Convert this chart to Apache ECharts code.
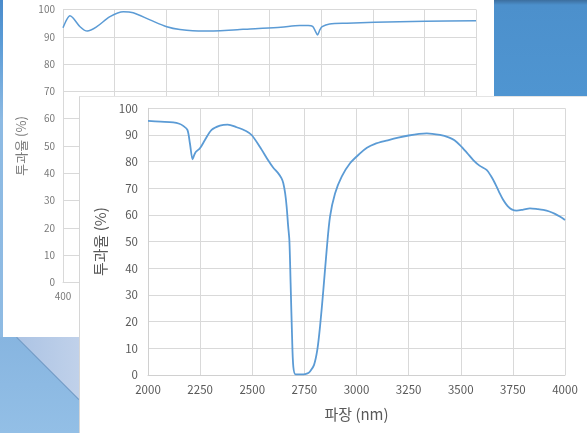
<!DOCTYPE html>
<html>
<head>
<meta charset="utf-8">
<script src="https://cdn.jsdelivr.net/npm/echarts@6/dist/echarts.min.js"></script>
<style>
  html, body { margin: 0; padding: 0; }
  body { width: 587px; height: 433px; position: relative; overflow: hidden;
         background: linear-gradient(180deg, #4a8bcb 0px, #5a9bd6 40px, #8dbae3 120px, #8fbbe3 433px); }
  .layer { position: absolute; left: 0; top: 0; width: 587px; height: 433px; }
  #topRight { position: absolute; left: 494px; top: 0; width: 93px; height: 96px;
              background: linear-gradient(180deg, #3c6e9e 0px, #4c90cc 5px, #4f95d1 96px); }
  #bottomLeft { position: absolute; left: 0; top: 337px; width: 79px; height: 96px;
                background: linear-gradient(180deg, #87b5e0 0px, #93bfe6 96px); }
  #sheen { position: absolute; left: 0; top: 337px; width: 79px; height: 96px;
           background: linear-gradient(90deg, #a7c0e2 0px, #c0d1ea 79px);
           clip-path: polygon(17px 0, 79px 0, 79px 62px); }
  #edge { position: absolute; left: 17px; top: 337px; width: 88px; height: 1px; background: #6f93bd;
          transform-origin: 0 0; transform: rotate(45deg); opacity: 0.8; }
  #backPanel { position: absolute; left: 3px; top: 0; width: 491px; height: 337px; background: #fff; }
  #frontPanel { position: absolute; left: 79px; top: 96px; width: 508px; height: 337px; background: #fff;
                box-sizing: border-box; border-left: 1px solid #d6d6d6; border-top: 1px solid #e4e4e4; }
</style>
</head>
<body>
<div id="topRight"></div>
<div id="bottomLeft"></div>
<div id="sheen"></div>
<div id="edge"></div>
<div id="backPanel"></div>
<div id="backChart" class="layer"></div>
<div id="frontPanel"></div>
<div id="frontChart" class="layer"></div>
<script>
// UV–VIS–NIR transmittance (400–2000 nm)
const visWavelength = [400, 414, 427, 440, 466, 494, 531, 582, 634, 672, 737, 802, 853, 944, 1060, 1125,
  1244, 1317, 1350, 1367, 1378, 1386, 1395, 1404, 1433, 1500, 1607, 1803, 2000];
const visTransmittance = [93.3, 96.2, 97.7, 96.8, 93.7, 92.1, 93.7, 97.4, 99.2, 98.8, 96.2, 93.7, 92.7, 92.1, 92.5, 92.9,
  93.5, 94.1, 94.1, 93.8, 92.0, 90.7, 92.5, 93.7, 94.7, 95.0, 95.3, 95.7, 95.9];
const visTicks = [400, 600, 800, 1000, 1200, 1400, 1600, 1800, 2000];

// Mid-IR transmittance (2000–4000 nm)
const irWavelength = [2000, 2060, 2121, 2150, 2169, 2189, 2201, 2214, 2222, 2230, 2249, 2273, 2305, 2345, 2382,
  2425, 2470, 2497, 2537, 2577, 2600, 2625, 2640, 2649, 2658, 2665, 2672, 2678, 2684, 2691, 2697, 2708, 2745,
  2765, 2777, 2796, 2812, 2825, 2841, 2857, 2873, 2897, 2929, 2969, 3017, 3050, 3086, 3150, 3200, 3250, 3300,
  3337, 3400, 3445, 3470, 3496, 3530, 3560, 3590, 3624, 3645, 3664, 3684, 3704, 3725, 3744, 3768, 3800, 3832,
  3870, 3896, 3925, 3952, 3975, 4000];
const irTransmittance = [95.3, 95.0, 94.7, 94.2, 93.4, 91.9, 86.9, 80.9, 82.5, 83.7, 85.0, 88.1, 91.9, 93.5, 93.9,
  92.9, 91.5, 90.0, 85.5, 80.4, 77.8, 75.6, 73.8, 71.9, 68.0, 63.1, 56.0, 50.6, 34.4, 14.4, 3.1, 0.2, 0.2,
  0.6, 1.3, 3.7, 9.4, 18.1, 31.9, 46.9, 59.4, 68.1, 74.4, 79.4, 83.1, 85.2, 86.6, 88.0, 89.0, 89.8, 90.4,
  90.6, 90.0, 89.0, 88.0, 86.2, 83.3, 80.6, 78.5, 76.9, 74.6, 71.9, 68.6, 65.6, 63.3, 62.1, 61.6, 62.0, 62.5,
  62.2, 61.9, 61.3, 60.4, 59.4, 58.1];
const irTicks = [2000, 2250, 2500, 2750, 3000, 3250, 3500, 3750, 4000];

const yTitle = '투과율 (%)';
const xTitle = '파장 (nm)';
const lineBlue = '#5b9bd5';
const gridGrey = '#d9d9d9';
const FONT = '"Noto Sans CJK KR", "Noto Sans", sans-serif';

function pairs(xs, ys) { return xs.map((x, i) => [x, ys[i]]); }
const plain = v => String(v);

function makeOption(cfg) {
  return {
    animation: false,
    grid: cfg.grid,
    xAxis: {
      type: 'value', min: cfg.xTicks[0], max: cfg.xTicks[cfg.xTicks.length - 1],
      interval: cfg.xTicks[1] - cfg.xTicks[0],
      axisLine: { show: true, lineStyle: { color: cfg.axisColor, width: 1 } },
      axisTick: { show: false },
      splitLine: { show: true, lineStyle: { color: gridGrey, width: 1 } },
      axisLabel: { color: cfg.labelColor, fontSize: cfg.labelSize, fontFamily: FONT, margin: cfg.xMargin,
                   formatter: plain },
      name: cfg.xName, nameLocation: 'middle', nameGap: cfg.xNameGap,
      nameTextStyle: { color: cfg.titleColor, fontSize: cfg.titleSize, fontFamily: FONT }
    },
    yAxis: {
      type: 'value', min: 0, max: 100, interval: 10,
      axisLine: { show: true, lineStyle: { color: cfg.axisColor, width: 1 } },
      axisTick: { show: false },
      splitLine: { show: true, lineStyle: { color: gridGrey, width: 1 } },
      axisLabel: { color: cfg.labelColor, fontSize: cfg.labelSize, fontFamily: FONT, margin: cfg.yMargin,
                   formatter: plain },
      name: yTitle, nameLocation: 'middle', nameGap: cfg.yNameGap, nameRotate: 90,
      nameTextStyle: { color: cfg.titleColor, fontSize: cfg.titleSize, fontFamily: FONT }
    },
    series: [{
      type: 'line', data: pairs(cfg.xs, cfg.ys), showSymbol: false, smooth: 0.3,
      lineStyle: { color: lineBlue, width: cfg.lineWidth }, clip: true
    }]
  };
}

const backChart = echarts.init(document.getElementById('backChart'), null, { renderer: 'canvas' });
backChart.setOption(makeOption({
  grid: { left: 63, top: 9.5, width: 413, height: 273, containLabel: false },
  xTicks: visTicks, xs: visWavelength, ys: visTransmittance,
  axisColor: '#d9d9d9', labelColor: '#7a7a7a', titleColor: '#7a7a7a',
  labelSize: 10, titleSize: 13, xMargin: 9, yMargin: 8, xName: '', xNameGap: 30, yNameGap: 30, lineWidth: 1.5
}));

const frontChart = echarts.init(document.getElementById('frontChart'), null, { renderer: 'canvas' });
frontChart.setOption(makeOption({
  grid: { left: 148, top: 108.3, width: 417, height: 266.7, containLabel: false },
  xTicks: irTicks, xs: irWavelength, ys: irTransmittance,
  axisColor: '#d0d0d0', labelColor: '#595959', titleColor: '#595959',
  labelSize: 11.5, titleSize: 15, xMargin: 9, yMargin: 10, xName: xTitle, xNameGap: 32, yNameGap: 37, lineWidth: 1.8
}));
</script>
</body>
</html>
